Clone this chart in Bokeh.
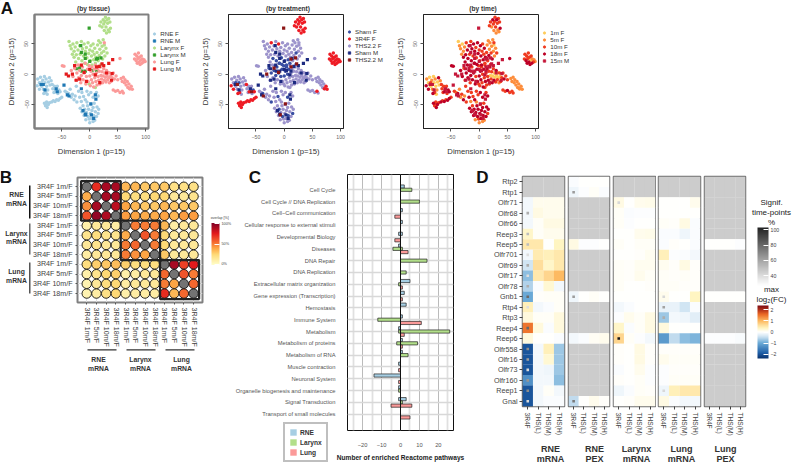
import numpy as np
from bokeh.plotting import figure
from bokeh.layouts import column, row
from bokeh.embed import file_html
from bokeh.resources import INLINE
from bokeh.models import (Range1d, FixedTicker, Label, BoxAnnotation, Legend, LegendItem, ColorBar,
                          LinearColorMapper, Span, ColumnDataSource)
from bokeh.transform import transform

FONT = "Liberation Sans"

# ---------------- panel A data (x, y, treatment code, time code) ----------------
rne_f = [(-93,-8,"T","b"),(-90,-14,"T","a"),(-88,-5,"T","a"),(-86,-20,"T","a"),(-84,-10,"T","b"),(-83,-25,"T","b"),(-81,-4,"T","a"),(-80,-14,"S","a"),(-79,-30,"R","c"),(-78,-8,"T","b"),(-77,-20,"T","a"),(-75,-26,"T","b"),(-74,-13,"T","a"),(-72,-6,"T","d"),(-71,-18,"T","a"),(-69,-11,"T","b"),(-82,-32,"R","d"),(-90,-25,"R","d"),(-94,-19,"R","d"),(-76,-33,"T","a"),(-67,-17,"R","c"),(-86,-14,"S","c"),
 (-66,-24,"T","c"),(-63,-20,"T","c"),(-62,-29,"R","d"),(-60,-25,"T","d"),(-58,-20,"T","c"),(-57,-32,"T","c"),(-55,-26,"S","d"),(-53,-29,"R","d"),(-64,-30,"T","c"),
 (-81,-48,"R","d"),(-79,-52,"R","c"),(-77,-46,"R","c"),(-76,-55,"R","d"),(-74,-50,"R","d"),(-72,-47,"R","c"),(-78,-50,"R","c"),(-68,-46,"R","d"),(-65,-44,"R","c"),(-62,-45,"R","d"),(-59,-42,"R","c"),(-56,-43,"R","d"),(-53,-40,"R","d"),(-50,-38,"R","c"),
 (-44,-28,"T","c"),(-41,-30,"T","b"),(-38,-32,"S","d"),(-35,-25,"T","b"),(-33,-38,"T","b"),(-31,-33,"T","c"),(-28,-42,"T","d"),(-26,-36,"T","b"),(-23,-46,"S","c"),(-20,-28,"T","c"),(-18,-38,"T","d"),(-15,-45,"T","b"),(-14,-30,"T","c"),(-11,-37,"S","c"),(-8,-42,"T","d"),(-5,-28,"T","c"),(-2,-34,"T","c"),(2,-30,"T","d"),(6,-38,"S","d"),(12,-30,"T","c"),(15,-36,"T","d"),(-24,-20,"T","c"),
 (-17,-56,"T","d"),(-14,-62,"T","d"),(-12,-52,"T","c"),(-10,-68,"T","d"),(-9,-58,"S","d"),(-7,-75,"T","b"),(-6,-63,"T","d"),(-4,-52,"T","d"),(-3,-70,"S","d"),(-2,-58,"T","d"),(0,-80,"T","b"),(1,-65,"T","d"),(2,-50,"T","c"),(3,-73,"T","d"),(4,-60,"T","d"),(6,-55,"T","d"),(7,-68,"S","d"),(8,-48,"T","c"),(9,-76,"T","b"),(10,-62,"T","d"),(12,-70,"T","d"),(13,-54,"T","d"),(15,-65,"S","c"),(16,-58,"T","d"),(-1,-74,"T","c"),(6,-78,"T","b"),(-12,-60,"T","d"),(-5,-46,"T","b")]
rne_m = [(-87,-17,"s","e"),(-83,-17,"t","e"),(-80,-26,"s","e"),(-60,-24,"s","e"),(-58,-29,"t","e"),(-46,-18,"s","e"),(-40,-34,"s","e"),(-37,-36,"t","e"),(-15,-24,"s","e"),(10,-34,"s","e"),(11,-41,"s","e"),(2,-49,"t","e"),(-8,-66,"s","e"),(-7,-67,"t","e"),(7,-73,"s","e"),(3,-67,"s","e"),(-12,-60,"s","e")]
larynx_f = [(18,80,"R","c"),(20,86,"R","c"),(22,78,"R","b"),(24,90,"R","d"),(25,83,"R","c"),(26,72,"R","b"),(27,87,"R","c"),(28,94,"R","c"),(29,78,"R","c"),(30,68,"R","b"),(31,90,"R","d"),(32,84,"R","c"),(33,73,"R","b"),(34,92,"R","c"),(35,70,"R","b"),(36,86,"R","c"),(37,76,"R","d"),
 (-37,54,"T","a"),(-35,47,"T","b"),(-33,42,"T","b"),(-30,50,"T","a"),(-28,38,"T","b"),(-26,45,"T","b"),(-24,32,"T","d"),(-23,52,"R","c"),(-21,40,"T","d"),(-20,26,"S","d"),(-18,47,"T","d"),(-17,33,"T","c"),(-15,54,"T","c"),(-14,22,"S","d"),(-13,42,"T","d"),(-11,30,"T","c"),(-10,50,"R","d"),(-9,18,"S","d"),(-8,38,"T","d"),(-6,44,"T","c"),(-5,27,"S","c"),(-4,16,"S","d"),(-3,52,"T","d"),(-2,34,"T","d"),(0,40,"T","c"),(1,22,"S","c"),(2,47,"T","d"),(3,30,"T","d"),(4,15,"S","d"),(5,38,"T","c"),(6,50,"T","c"),(7,24,"S","d"),(8,33,"T","c"),(9,43,"T","d"),(10,18,"S","c"),(11,28,"T","d"),(13,36,"T","c"),(14,48,"T","b"),(15,22,"T","c"),(16,55,"T","b"),(17,31,"T","d"),(18,41,"T","b"),(19,52,"T","b"),(20,16,"T","c"),(21,35,"S","c"),(22,46,"T","b"),(23,25,"T","d"),(24,57,"T","b"),(25,38,"T","b"),(26,48,"T","a"),(27,30,"T","b"),(29,43,"T","b"),(31,35,"T","c"),(-28,28,"T","d"),(-31,33,"T","b"),(-16,14,"S","d"),(-25,20,"T","d"),(-1,-16,"T","c"),(10,-22,"T","c")]
larynx_m = [(-1,76,"t","e"),(-16,47,"s","e"),(-15,36,"s","e"),(-8,33,"s","e"),(-8,26,"s","e"),(0,21,"s","e"),(12,25,"t","e"),(14,26,"s","e"),(20,27,"t","e"),(-24,9,"s","e"),(-18,10,"t","e"),(-14,5,"s","e"),(-8,5,"s","e"),(4,6,"s","e"),(12,5,"s","e")]
lung_f = [(-49,14,"T","d"),(-46,13,"T","d"),(-33,6,"T","d"),(-30,-4,"T","d"),(-27,10,"S","c"),(-25,-10,"T","c"),(-23,2,"S","d"),(-21,15,"T","d"),(-20,-6,"T","d"),(-18,6,"S","d"),(-16,-14,"T","c"),(-15,-2,"S","d"),(-13,12,"S","c"),(-12,-9,"T","d"),(-10,2,"S","d"),(-8,18,"S","d"),(-7,-16,"T","d"),(-6,-4,"S","c"),(-4,8,"S","d"),(-3,-12,"T","d"),(-1,14,"S","c"),(0,-3,"S","d"),(1,-19,"T","c"),(2,5,"S","d"),(3,-9,"T","d"),(4,12,"S","c"),(5,-14,"T","c"),(6,0,"S","c"),(7,-21,"T","d"),(8,8,"S","d"),(9,-6,"T","c"),(10,15,"T","c"),(11,-12,"T","d"),(12,2,"T","c"),(13,-18,"T","c"),(14,9,"T","d"),(15,-4,"T","c"),(16,-10,"T","d"),(17,5,"T","c"),(18,-16,"T","c"),(19,12,"T","d"),(20,-2,"T","a"),(21,-8,"T","c"),(22,4,"T","c"),(23,-14,"T","d"),(24,-3,"T","a"),(25,9,"T","c"),(26,-10,"T","d"),(27,2,"T","a"),(28,-5,"T","a"),(29,-13,"T","c"),(30,6,"T","d"),(31,-2,"T","a"),(32,-9,"T","c"),(33,3,"T","a"),(34,-6,"T","a"),(35,-14,"T","b"),(36,2,"T","c"),(37,-4,"T","a"),(38,-12,"T","c"),(40,-6,"T","c"),(42,2,"T","c"),(44,-8,"T","d"),(47,-3,"T","c"),(50,-9,"T","c"),(26,52,"T","c"),(54,26,"T","d"),
 (80,25,"R","c"),(81,33,"R","c"),(83,22,"R","d"),(84,30,"R","c"),(85,18,"R","d"),(86,26,"R","c"),(87,35,"R","c"),(88,20,"R","d"),(89,28,"R","c"),(90,16,"R","d"),(91,23,"R","a"),(92,30,"R","c"),(93,18,"R","d"),(94,25,"R","b"),(96,20,"R","c"),(97,24,"R","b"),(99,21,"R","b"),
 (56,-7,"T","b"),(58,-12,"T","b"),(60,-5,"T","b"),(62,-14,"T","b"),(63,-9,"T","b"),(65,-18,"T","b"),(67,-12,"T","b"),(68,-22,"T","b"),(70,-16,"T","b"),(72,-24,"T","b"),(74,-20,"R","b"),(76,-25,"R","b"),(71,-24,"R","b"),(42,-26,"T","c"),(46,-28,"T","c"),(50,-27,"T","d"),(54,-30,"T","c"),(58,-28,"R","c"),(60,-31,"T","c")]
lung_m = [(-27,14,"s","e"),(-15,15,"s","e"),(-31,0,"t","e"),(-42,0,"s","e"),(-38,-3,"s","e"),(-18,-8,"s","e"),(-24,-10,"s","e"),(-6,-12,"s","e"),(-10,3,"t","e"),(0,8,"s","e"),(12,12,"t","e"),(17,13,"s","e"),(22,17,"t","e"),(25,14,"s","e"),(30,2,"s","e"),(34,18,"s","e"),(41,24,"s","e"),(40,1,"s","e"),(39,-10,"s","e"),(10,-1,"s","e"),(18,-14,"s","e")]

tissue_groups = [("RNE F", rne_f, "#A6CEE3", "circle"), ("RNE M", rne_m, "#1F78B4", "square"),
                 ("Larynx F", larynx_f, "#B2DF8A", "circle"), ("Larynx M", larynx_m, "#33A02C", "square"),
                 ("Lung F", lung_f, "#FB9A99", "circle"), ("Lung M", lung_m, "#E31A1C", "square")]
treat_groups = [("THS2.2 F", "T", "#9D94CC", "circle"), ("Sham F", "S", "#3A4FA3", "circle"), ("3R4F F", "R", "#EE1C25", "circle"),
                ("Sham M", "s", "#1C2A80", "square"), ("THS2.2 M", "t", "#8C1515", "square")]
treat_legend = ["Sham F", "3R4F F", "THS2.2 F", "Sham M", "THS2.2 M"]
time_groups = [("1m F", "a", "#FECC5C", "circle"), ("5m F", "b", "#FD8D3C", "circle"), ("10m F", "c", "#F03B20", "circle"),
               ("18m F", "d", "#BD0026", "circle"), ("15m M", "e", "#C5173A", "square")]
all_points = rne_f + rne_m + larynx_f + larynx_m + lung_f + lung_m

# ---------------- panel B data ----------------
overlap_labels = ["3R4F 1m/F", "3R4F 5m/F", "3R4F 10m/F", "3R4F 18m/F"] * 3
overlap = [
 [None,70,90,90, 35,35,30,30, 30,20,20,20],
 [38,None,90,90, 25,22,22,25, 25,15,15,18],
 [45,90,None,85, 40,35,30,30, 35,30,30,30],
 [60,95,88,None, 42,40,38,38, 40,35,42,42],
 [10,15,15,12, None,50,50,50, 35,12,15,15],
 [18,22,18,18, 38,None,60,50, 25,15,15,15],
 [15,18,15,15, 50,55,None,50, 25,15,15,15],
 [12,15,15,15, 50,45,40,None, 30,15,15,15],
 [22,28,30,33, 28,22,22,22, None,90,65,75],
 [10,18,25,28, 10,12,15,15, 55,None,60,50],
 [8,15,22,25, 12,15,15,15, 50,40,None,55],
 [8,12,20,25, 10,12,12,12, 70,35,55,None]]
block_edges = [0.42, 4.5, 8.55, 12.57]

# ---------------- panel C data ----------------
pathways = ["Cell Cycle", "Cell Cycle // DNA Replication", "Cell\u2212Cell communication", "Cellular response to external stimuli",
            "Developmental Biology", "Diseases", "DNA Repair", "DNA Replication", "Extracellular matrix organization",
            "Gene expression (Transcription)", "Hemostasis", "Immune System", "Metabolism", "Metabolism of proteins",
            "Metabolism of RNA", "Muscle contraction", "Neuronal System", "Organelle biogenesis and maintenance",
            "Signal Transduction", "Transport of small molecules"]
rne_up =      [2,0,1,1,1,0,0,0,5,2,3,1,0,1,1,0,0,0,3,0]
rne_down =    [0,0,0,0,-1,-1,0,0,0,0,0,0,-1,0,0,-1,-14,-1,-1,0]
larynx_up =   [6,10,0,0,0,1,14,3,0,0,0,0,26,9,4,0,0,0,1,0]
larynx_down = [0,0,0,0,0,-4,0,0,-1,0,0,-12,-1,-2,0,0,0,-1,0,0]
lung_up =     [0,0,0,0,0,4,0,0,1,1,0,11,2,1,0,0,0,0,6,5]
lung_down =   [0,0,-3,0,-3,0,0,0,0,0,0,0,0,0,0,-1,-1,0,-5,0]

# ---------------- panel D data ----------------
genes = ["Rtp2","Rtp1","Olfr71","Olfr68","Olfr66","Reep3","Reep5","Olfr701","Olfr69","Olfr17","Olfr78","Gnb1","Rtp4","Rtp3",
         "Reep4","Reep6","Olfr558","Olfr16","Olfr73","Olfr160","Reep1","Gnal"]
treatments = ["3R4F", "THS(L)", "THS(M)", "THS(H)"]
NA = [None, None, None, None]
rne_mrna = [NA,NA,[-.1,.1,.1,.1],[-.1,.15,.1,.1],[-.1,.05,.15,.15],[.3,.05,.1,.1],[.5,.5,0,.35],[-.1,.45,.4,.5],[-.4,.6,.3,.5],[-.8,.5,.7,1.0],
            [-.6,-.05,.25,-.1],[-1.0,.02,.05,.05],[.4,-.1,-.05,.05],[.2,.05,.05,.2],[1.5,.2,-.05,.2],[.2,0,0,-.05],[-2,-.1,.4,-.7],[-2,-.1,.25,-.7],
            [-2,-.1,-.15,-.7],[-1.3,-.1,-.1,-.8],[-2,-.1,.05,-.1],[-2,-.1,-.05,-.05]]
rne_pex = [[-.05,0,0,0],[-.15,-.02,.05,-.05],NA,NA,NA,NA,[.15,-.03,-.02,0],NA,NA,NA,NA,[-.15,0,.05,0],NA,NA,NA,[-.1,-.05,.07,.1],NA,NA,NA,NA,NA,[-.5,0,.1,.03]]
larynx_mrna = [NA,NA,[.15,0,.1,.12],[.05,-.05,-.02,-.02],[.05,-.02,0,0],[0,0,.1,.12],[.05,0,.05,.05],[0,0,.02,.08],[.05,.02,.08,.08],[.05,.02,.1,.05],
               [.05,0,0,.02],[0,0,0,0],[-.1,-.05,0,0],[-.02,.1,.05,.15],[.3,-.05,.05,.15],[.7,.05,-.02,-.1],[.03,0,.15,.03],[.02,0,.15,.03],
               [-.05,0,.1,-.02],[.02,0,.05,-.02],[-.15,-.05,.05,.02],[0,.02,.1,.1]]
lung_mrna = [NA,NA,[0,0,0,.1],[0,0,0,0],[.05,.02,.15,-.05],[-.05,-.05,-.15,-.05],[-.05,.02,0,-.05],[.4,-.03,-.05,-.1],[.08,.03,.15,.03],[.05,.02,.05,.02],
             [.05,.05,.02,.02],[.1,0,0,.35],[-.2,-.2,-.4,-.05],[-.7,-.1,-.15,-.25],[.2,0,0,0],[-1.2,-.5,-.8,-.9],[.02,.02,.02,.02],[.1,.05,.05,.05],
             [-.03,.03,.03,.03],[-.03,.05,.05,.05],[-.15,.4,.5,.5],[.15,-.05,-.1,-.1]]
lung_pex = [NA,NA,NA,NA,NA,NA,[0,0,0,-.02],NA,NA,NA,NA,[0,0,0,0],NA,NA,NA,[-.03,-.02,-.02,-.06],NA,NA,NA,NA,NA,NA]
# (gene index, treatment index, % of significant time-points)
rne_mrna_sig = [(3,0,55),(5,0,50),(6,0,50),(7,0,40),(8,0,55),(9,0,40),(10,0,55),(11,0,75),(12,0,40),(14,0,75),(16,0,65),(17,0,60),(18,0,42),(19,0,62),(20,0,65),(21,0,42)]
rne_pex_sig = [(1,0,60),(11,0,60),(21,0,70)]
larynx_mrna_sig = [(2,0,42),(15,0,100)]
lung_mrna_sig = [(11,0,42),(12,0,58),(13,0,55),(20,0,42)]
lung_pex_sig = []
d_panels = [("RNE", "mRNA", rne_mrna, rne_mrna_sig), ("RNE", "PEX", rne_pex, rne_pex_sig), ("Larynx", "mRNA", larynx_mrna, larynx_mrna_sig),
            ("Lung", "mRNA", lung_mrna, lung_mrna_sig), ("Lung", "PEX", lung_pex, lung_pex_sig)]


def ramp(anchors, n=256):
    pos = [a[0] for a in anchors]
    rgb = np.array([[int(a[1][i:i + 2], 16) for i in (1, 3, 5)] for a in anchors], float)
    t = np.linspace(pos[0], pos[-1], n)
    return ["#%02X%02X%02X" % tuple(int(round(np.interp(v, pos, rgb[:, k]))) for k in range(3)) for v in t]


def make_fig(canvas, frame, xr, yr):
    c, f = canvas, frame
    return figure(width=c[2] - c[0], height=c[3] - c[1], x_range=xr, y_range=yr, output_backend="svg", toolbar_location=None,
                  min_border_left=f[0] - c[0], min_border_right=c[2] - f[2], min_border_top=f[1] - c[1], min_border_bottom=c[3] - f[3],
                  background_fill_color="white", border_fill_color="white")


def style_axis(ax, size, color="#555555", standoff=2):
    ax.major_label_text_font = FONT
    ax.major_label_text_font_size = f"{size}px"
    ax.major_label_text_color = color
    ax.major_label_standoff = standoff
    ax.minor_tick_line_color = None
    ax.axis_label_text_font = FONT
    ax.axis_label_text_font_style = "normal"


# Transparent page-sized overlay for everything that sits outside the plot frames
ov = figure(width=792, height=464, x_range=Range1d(0, 792), y_range=Range1d(464, 0), output_backend="svg", toolbar_location=None,
            x_axis_location=None, y_axis_location=None, min_border=0, background_fill_alpha=0, border_fill_alpha=0, outline_line_color=None,
            margin=(-464, 0, 0, 0))
ov.grid.visible = False
OFF = -1000  # legend-key renderers stay outside the overlay's range: only their swatch is seen


def note(x, y, text, size, bold=False, color="#333333", align="center"):
    ov.add_layout(Label(x=x, y=y, text=text, text_font=FONT, text_font_size=f"{size}px", text_font_style="bold" if bold else "normal",
                        text_color=color, text_align=align, text_baseline="middle"))


def rule(l, t, r, b, color):
    ov.add_layout(BoxAnnotation(left=l, right=r, top=t, bottom=b, fill_color=color, fill_alpha=1, line_color=None))


def key_legend(entries, x, y):
    items = []
    for name, col, mk in entries:
        r = ov.scatter(x=[OFF], y=[OFF], marker=mk, size=3, fill_color=col, line_color=col, line_width=0.8)
        items.append(LegendItem(label=name, renderers=[r]))
    ov.add_layout(Legend(items=items, location=(x, 464 - y), background_fill_alpha=0, border_line_color=None, glyph_height=7, glyph_width=6,
                         label_height=7, label_standoff=3, spacing=0, padding=0, margin=0, label_text_font=FONT, label_text_font_size="6.2px",
                         label_text_color="#333333"))


# ================= Panel A =================
a_canvas = [(0, 0, 190, 165), (190, 0, 380, 165), (380, 0, 792, 165)]
a_frame = [(34, 14, 148, 128), (228, 14, 343, 128), (423, 14, 538, 128)]
a_titles = ["(by tissue)", "(by treatment)", "(by time)"]
a_figs = []


def tsne_base(k, edge, width):
    p = make_fig(a_canvas[k], a_frame[k], Range1d(-98.7, 105), Range1d(-89.6, 98.5))
    p.grid.visible = False
    p.outline_line_color = edge
    p.outline_line_width = width
    p.xaxis.ticker = FixedTicker(ticks=[-50, 0, 50, 100])
    p.yaxis.ticker = FixedTicker(ticks=[-50, 0, 50])
    p.yaxis.major_label_orientation = "vertical"
    for ax in (p.xaxis[0], p.yaxis[0]):
        style_axis(ax, 5.2, "#666666", 3)
        ax.axis_line_color = edge
        ax.axis_line_width = width
        ax.major_tick_line_color = "#555555"
        ax.major_tick_out = 3
        ax.major_tick_in = 0
        ax.axis_label_text_font_size = "7.7px"
        ax.axis_label_text_color = "#333333"
    p.xaxis.axis_label = "Dimension 1 (p=15)"
    p.yaxis.axis_label = "Dimension 2 (p=15)"
    p.xaxis.axis_label_standoff = 5
    p.yaxis.axis_label_standoff = 6
    note((a_frame[k][0] + a_frame[k][2]) / 2 + 2, 7.5, a_titles[k], 6.6, bold=True)
    return p


def draw_points(p, pts, col, mk):
    p.scatter([q[0] for q in pts], [q[1] for q in pts], size=3.5 if mk == "circle" else 3.2, marker=mk, fill_color=col, line_color=None)


p = tsne_base(0, "#808080", 2)
for name, pts, col, mk in tissue_groups:
    draw_points(p, pts, col, mk)
a_figs.append(p)
key_legend([(g[0], g[2], g[3]) for g in tissue_groups], 151.3, 72)

p = tsne_base(1, "#222222", 1)
for name, code, col, mk in treat_groups:
    draw_points(p, [q for q in all_points if q[2] == code], col, mk)
a_figs.append(p)
tg = {g[0]: g for g in treat_groups}
key_legend([(n, tg[n][2], tg[n][3]) for n in treat_legend], 346, 63)

p = tsne_base(2, "#222222", 1)
for name, code, col, mk in time_groups:
    draw_points(p, [q for q in all_points if q[3] == code], col, mk)
a_figs.append(p)
key_legend([(g[0], g[2], g[3]) for g in time_groups], 541.3, 63.5)
note(6.5, 8, "A", 17, bold=True, color="#111111")

# ================= Panel B =================
pb = make_fig((0, 165, 210, 464), (77, 177, 202, 302), Range1d(0.05, 12.92), Range1d(12.92, 0.05))
pb.outline_line_color = "#808080"
pb.outline_line_width = 2
pos = list(range(1, 13))
ov_map = {i + 1: s for i, s in enumerate(overlap_labels)}
for ax in (pb.xaxis[0], pb.yaxis[0]):
    ax.ticker = FixedTicker(ticks=pos)
    ax.major_label_overrides = ov_map
    style_axis(ax, 7.1, "#444444", 3)
    ax.axis_line_color = None
    ax.major_tick_line_color = "#555555"
    ax.major_tick_out = 2
    ax.major_tick_in = 0
pb.xaxis.major_label_orientation = "vertical"
pb.grid.grid_line_color = "#DDDDDD"
ov_mapper = LinearColorMapper(palette=ramp([(0, "#FFFFCC"), (25, "#FED976"), (40, "#FDA544"), (55, "#F4672E"), (75, "#E31A1C"), (100, "#800026")]),
                              low=0, high=100, nan_color="#737373")
xs, ys, vs = [], [], []
for i, rw in enumerate(overlap):
    for j, v in enumerate(rw):
        xs.append(j + 1); ys.append(i + 1); vs.append(float("nan") if v is None else float(v))
pb.scatter("x", "y", source=ColumnDataSource(dict(x=xs, y=ys, v=np.array(vs))), size=9.4, fill_color=transform("v", ov_mapper),
           line_color="#111111", line_width=0.9)
pb.quad(left=block_edges[:-1], right=block_edges[1:], bottom=block_edges[:-1], top=block_edges[1:], fill_color=None,
        line_color="#222222", line_width=2.2)
ov.add_layout(ColorBar(color_mapper=ov_mapper, location=(211, 464 - 264.5), width=8, height=42, ticker=FixedTicker(ticks=[2, 50, 98]),
                       major_label_overrides={2: "0%", 50: "50%", 98: "100%"}, major_label_text_font=FONT, major_label_text_font_size="3.8px",
                       major_label_text_color="#444444", major_tick_line_color="white", bar_line_color=None, label_standoff=2, padding=0,
                       margin=0, background_fill_alpha=0, border_line_color=None))
note(219.3, 217.5, "overlap [%]", 3.6, color="#444444")
note(5.5, 176.5, "B", 17, bold=True, color="#111111")
for name, yc, top, bot, col in [("RNE", 194, 185, 218, "#111111"), ("Larynx", 232.5, 223, 254, "#666666"), ("Lung", 271, 262, 293, "#555555")]:
    note(16, yc, name, 6.8, bold=True)
    note(16, yc + 8.6, "mRNA", 6.8, bold=True)
    rule(28.5, top, 30, bot, col)
for name, xc, l, r in [("RNE", 98, 87, 116), ("Larynx", 140, 126, 155), ("Lung", 181, 165, 194)]:
    note(xc, 359, name, 6.8, bold=True)
    note(xc, 367.5, "mRNA", 6.8, bold=True)
    rule(l, 348.7, r, 350, "#333333")

# ================= Panel C =================
pc = make_fig((210, 165, 470, 464), (347, 174, 453, 430), Range1d(-28, 28), Range1d(20.38, -1.295))
pc.outline_line_color = "#111111"
pc.outline_line_width = 1
pc.xaxis.ticker = FixedTicker(ticks=[-20, -10, 0, 10, 20], minor_ticks=[-25, -15, -5, 5, 15, 25])
pc.yaxis.ticker = FixedTicker(ticks=list(range(len(pathways))))
pc.yaxis.major_label_overrides = {i: s for i, s in enumerate(pathways)}
for ax in (pc.xaxis[0], pc.yaxis[0]):
    style_axis(ax, 5.75, "#555555", 6)
    ax.axis_line_color = None
    ax.major_tick_line_color = None
pc.xaxis.axis_label = "Number of enriched Reactome pathways"
pc.xaxis.axis_label_text_font_size = "6.6px"
pc.xaxis.axis_label_text_font_style = "bold"
pc.xaxis.axis_label_text_color = "#222222"
pc.xaxis.axis_label_standoff = 4
pc.xgrid.grid_line_color = "#BBBBBB"
pc.xgrid.grid_line_width = 1
pc.xgrid.minor_grid_line_color = "#E0E0E0"
pc.xgrid.minor_grid_line_width = 1.8
pc.ygrid.grid_line_color = "#D8D8D8"
pc.ygrid.grid_line_width = 1.6
leg_items = []
for name, up, down, off, col in [("RNE", rne_up, rne_down, -0.275, "#A6CEE3"), ("Larynx", larynx_up, larynx_down, 0, "#B2DF8A"), ("Lung", lung_up, lung_down, 0.275, "#FB9A99")]:
    for vals in (up, down):
        yy = [i + off for i, v in enumerate(vals) if v != 0]
        rr = [v for v in vals if v != 0]
        pc.hbar(y=yy, left=0, right=rr, height=0.27, fill_color=col, line_color="#222222", line_width=0.7)
    sw = ov.hbar(y=[OFF], left=[OFF], right=[OFF + 1], height=1, fill_color=col, line_color=None)
    leg_items.append(LegendItem(label=name, renderers=[sw]))
pc.add_layout(Span(location=0, dimension="height", line_color="#111111", line_width=1))
ov.add_layout(Legend(items=leg_items, location=(283, 464 - 462), background_fill_color="white", border_line_color="#808080", border_line_width=2,
                     glyph_height=8, glyph_width=8, label_height=8, label_standoff=3, spacing=2, padding=4, margin=0, label_text_font=FONT,
                     label_text_font_size="6.6px", label_text_font_style="bold", label_text_color="#333333"))
note(254.5, 176.5, "C", 17, bold=True, color="#111111")

# ================= Panel D =================
fc_mapper = LinearColorMapper(palette=ramp([(-2.4, "#08306B"), (-1.9, "#1F5FA8"), (-1, "#6BAAD6"), (-0.4, "#D2E5F3"), (0, "#FFFFFF"), (0.35, "#FFF5C2"),
                                            (1, "#FDBB63"), (1.6, "#EC6A25"), (2.0, "#B5331A"), (2.4, "#7A0A14")]),
                              low=-2.4, high=2.4, nan_color="#CCCCCC")
sig_mapper = LinearColorMapper(palette=ramp([(30, "#FFFFFF"), (60, "#999999"), (100, "#111111")]), low=30, high=102)
d_canvas = [(470, 165, 566, 464), (566, 165, 611, 464), (611, 165, 656, 464), (656, 165, 702, 464), (702, 165, 792, 464)]
d_frame = [(522, 176, 564, 406), (568, 176, 609, 406), (613, 176, 655, 406), (658, 176, 700, 406), (704, 176, 745, 406)]
d_centres = [550, 594, 636, 681, 725]
d_figs = []
for k, (tis, kind, mat, sig) in enumerate(d_panels):
    p = make_fig(d_canvas[k], d_frame[k], Range1d(0, 4), Range1d(22, 0))
    p.grid.visible = False
    p.outline_line_color = "#707070"
    p.outline_line_width = 1.5
    xx, yy, vv = [], [], []
    for i, rw in enumerate(mat):
        for j, v in enumerate(rw):
            xx.append(j + 0.5); yy.append(i + 0.5); vv.append(float("nan") if v is None else float(v))
    p.rect("x", "y", 1.01, 1.01, source=ColumnDataSource(dict(x=xx, y=yy, v=np.array(vv))), fill_color=transform("v", fc_mapper), line_color=None)
    if sig:
        sg = ColumnDataSource(dict(x=[s[1] + 0.5 for s in sig], y=[s[0] + 0.5 for s in sig], v=[s[2] for s in sig]))
        p.scatter("x", "y", source=sg, marker="square", size=2.6, line_color=None, fill_color=transform("v", sig_mapper))
    p.xaxis.ticker = FixedTicker(ticks=[0.5, 1.5, 2.5, 3.5])
    p.xaxis.major_label_overrides = {j + 0.5: t for j, t in enumerate(treatments)}
    p.xaxis.major_label_orientation = "vertical"
    style_axis(p.xaxis[0], 6.6, "#444444", 3)
    p.xaxis.axis_line_color = None
    p.xaxis.major_tick_line_color = "#444444"
    p.xaxis.major_tick_out = 3
    p.xaxis.major_tick_in = 0
    if k == 0:
        p.yaxis.ticker = FixedTicker(ticks=[i + 0.5 for i in range(22)])
        p.yaxis.major_label_overrides = {i + 0.5: g for i, g in enumerate(genes)}
        style_axis(p.yaxis[0], 7.2, "#444444", 2)
        p.yaxis.axis_line_color = None
        p.yaxis.major_tick_line_color = "#444444"
        p.yaxis.major_tick_out = 3
        p.yaxis.major_tick_in = 0
    else:
        p.yaxis.visible = False
    note(d_centres[k], 448.5, tis, 9, bold=True)
    note(d_centres[k], 458.5, kind, 9, bold=True)
    d_figs.append(p)
note(482, 176.5, "D", 17, bold=True, color="#111111")

for txt, yy in [("Signif.", 201.5), ("time-points", 212), ("%", 222), ("max", 288.5), ("log\u2082(FC)", 298.5)]:
    note(771, yy, txt, 8, color="#222222")
sig_bar = LinearColorMapper(palette=ramp([(30, "#FFFFFF"), (60, "#AAAAAA"), (103, "#222222")]), low=27, high=103)
ov.add_layout(ColorBar(color_mapper=sig_bar, location=(757, 464 - 285), width=11, height=58, ticker=FixedTicker(ticks=[40, 60, 80, 100]),
                       major_label_text_font=FONT, major_label_text_font_size="5.2px", major_label_text_color="#444444",
                       major_tick_line_color="white", bar_line_color=None, label_standoff=2, padding=0, margin=0,
                       background_fill_alpha=0, border_line_color=None))
ov.add_layout(ColorBar(color_mapper=fc_mapper, location=(757, 464 - 358), width=11, height=53, ticker=FixedTicker(ticks=[-2, -1, 0, 1, 2]),
                       major_label_overrides={-2: "\u22122", -1: "\u22121", 0: "0", 1: "1", 2: "2"},
                       major_label_text_font=FONT, major_label_text_font_size="5.2px", major_label_text_color="#444444",
                       major_tick_line_color="white", bar_line_color=None, label_standoff=2, padding=0, margin=0,
                       background_fill_alpha=0, border_line_color=None))

layout = column(row(*[column(f) for f in a_figs], spacing=0),
                row(*[column(f) for f in [pb, pc] + d_figs], spacing=0),
                ov, spacing=0)
open("out.html", "w").write(file_html(layout, INLINE))
